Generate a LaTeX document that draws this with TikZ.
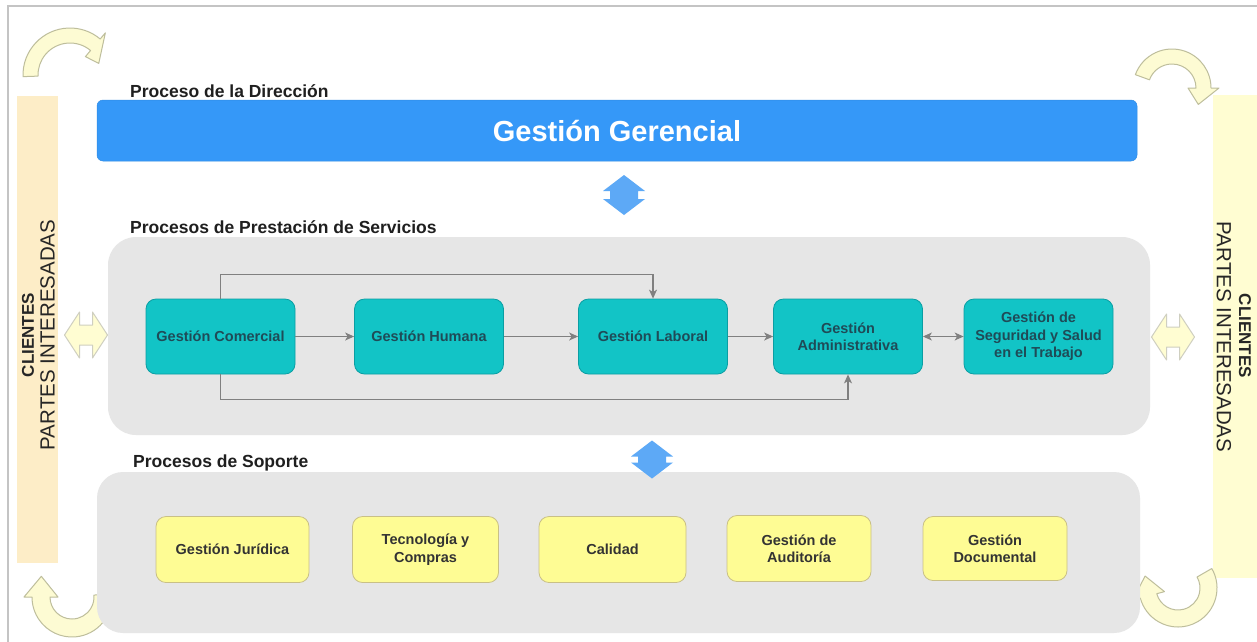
\documentclass[tikz,border=0pt]{standalone}
\usepackage{fontspec}
\setmainfont{Liberation Sans}
\usetikzlibrary{arrows.meta}

\definecolor{framegray}{HTML}{C4C4C4}
\definecolor{peach}{HTML}{FDEDC7}
\definecolor{paleyellow}{HTML}{FFFDD2}
\definecolor{direcblue}{HTML}{3598F8}
\definecolor{lightblue}{HTML}{5DA9F6}
\definecolor{panelgray}{HTML}{E6E6E6}
\definecolor{tealfill}{HTML}{12C4C6}
\definecolor{tealline}{HTML}{0B9EA3}
\definecolor{tealtext}{HTML}{1F4B57}
\definecolor{supfill}{HTML}{FEFC94}
\definecolor{supline}{HTML}{C9C086}
\definecolor{flowgray}{HTML}{808080}
\definecolor{bendfill}{HTML}{FDFBD3}
\definecolor{bendline}{HTML}{BEBE9C}
\definecolor{hollowline}{HTML}{CFCFC0}

% curved arrow: centre x, centre y, inner r, outer r, tail angle, head-base angle, tip angle, tip radius
\newcommand\bendarrow[8]{%
  \filldraw[cyclearrow] ([shift={(#1,#2)}]{#5}:{#4}) arc[start angle=#5, end angle=#6, radius=#4]
    -- ([shift={(#1,#2)}]{#6}:{#4+8}) -- ([shift={(#1,#2)}]{#7}:{#8})
    -- ([shift={(#1,#2)}]{#6}:{#3-8}) -- ([shift={(#1,#2)}]{#6}:{#3})
    arc[start angle=#6, end angle=#5, radius=#3] -- cycle;}

% horizontal two-headed outline arrow centred at (#1,#2)
\newcommand\hollowdouble[2]{%
  \filldraw[hollowarrow, shift={(#1,#2)}] (-21.5,0) -- (-6.5,-23) -- (-6.5,-10) -- (6.5,-10)
    -- (6.5,-23) -- (21.5,0) -- (6.5,23) -- (6.5,10) -- (-6.5,10) -- (-6.5,23) -- cycle;}

% vertical two-headed blue arrow centred at (#1,#2), half height #3
\newcommand\bluedouble[3]{%
  \fill[lightblue, shift={(#1,#2)}] (0,{-#3}) -- (21,{-#3+16}) -- (14,{-#3+16}) -- (14,{#3-16})
    -- (21,{#3-16}) -- (0,{#3}) -- (-21,{#3-16}) -- (-14,{#3-16}) -- (-14,{-#3+16})
    -- (-21,{-#3+16}) -- cycle;}

\begin{document}
\begin{tikzpicture}[x=1pt,y=-1pt,
  cyclearrow/.style={fill=bendfill, draw=bendline, line width=1pt, line join=round},
  hollowarrow/.style={fill=paleyellow, draw=hollowline, line width=1pt, line join=round},
  lbl/.style={anchor=base west, font=\fontsize{17.5}{20}\selectfont\bfseries, text=black!88, inner sep=0pt},
  srv/.style={draw=tealline, fill=tealfill, rounded corners=10pt, line width=0.8pt,
    minimum width=149pt, minimum height=75pt, inner sep=0pt, align=center,
    font=\fontsize{14.5}{17.5}\selectfont\bfseries, text=tealtext},
  sup/.style={draw=supline, fill=supfill, rounded corners=10pt, line width=0.8pt,
    minimum width=146pt, minimum height=66pt, inner sep=0pt, align=center,
    font=\fontsize{14.5}{17.5}\selectfont\bfseries, text=black!80},
  flow/.style={draw=flowgray, line width=1.1pt, -{Stealth[length=9pt,width=8pt,inset=2.5pt]}},
  flowboth/.style={draw=flowgray, line width=1.1pt, {Stealth[length=9pt,width=8pt,inset=2.5pt]}-{Stealth[length=9pt,width=8pt,inset=2.5pt]}},
  sidelbl/.style={inner sep=0pt, text=black!85}]

\useasboundingbox (0,0) rectangle (1257,641);
\fill[white] (0,0) rectangle (1257,641);

% outer frame
\draw[framegray, line width=1.3pt] (8,650) -- (8,6) -- (1265,6);

% side bands for clients and stakeholders
\fill[peach] (17,96) rectangle (58,563);
\fill[paleyellow] (1213,95) rectangle (1262,578);
\node[sidelbl, rotate=90, font=\fontsize{17}{19}\selectfont\bfseries] (cliL) at (28,335) {CLIENTES};
\node[sidelbl, rotate=90, font=\fontsize{20.5}{22}\selectfont] (parL) at (47.5,335) {PARTES INTERESADAS};
\node[sidelbl, rotate=-90, font=\fontsize{17}{19}\selectfont\bfseries] (cliR) at (1245,336) {CLIENTES};
\node[sidelbl, rotate=-90, font=\fontsize{20.5}{22}\selectfont] (parR) at (1224,337) {PARTES INTERESADAS};

% corner cycle arrows
\bendarrow{70}{75}{32}{47}{-182}{-50}{-22}{31}
\bendarrow{1172}{88}{24}{39}{-160}{0}{32}{31}
\bendarrow{72}{597}{22}{40}{-5}{180}{214}{37}
\bendarrow{1178}{588}{22}{39}{-30}{165}{200}{35}

% management process
\node[lbl] (lDir) at (130,97) {Proceso de la Dirección};
\node[fill=direcblue, draw=direcblue!92!black, line width=0.5pt, rounded corners=6pt,
  minimum width=1040pt, minimum height=61pt, inner sep=0pt,
  font=\fontsize{29}{32}\selectfont\bfseries, text=white] (ger) at (617,130.5) {Gestión Gerencial};

\bluedouble{624}{195}{20}

% service processes
\node[lbl] (lSrv) at (130,233) {Procesos de Prestación de Servicios};
\fill[panelgray, rounded corners=28pt] (108,237) rectangle (1150,435);

\node[srv] (com) at (220.5,336.5) {Gestión Comercial};
\node[srv] (hum) at (429,336.5) {Gestión Humana};
\node[srv] (lab) at (653,336.5) {Gestión Laboral};
\node[srv] (adm) at (848,336.5) {Gestión\\Administrativa};
\node[srv] (seg) at (1038.5,336.5) {Gestión de\\Seguridad y Salud\\en el Trabajo};

\draw[flow] (com) -- (hum);
\draw[flow] (hum) -- (lab);
\draw[flow] (lab) -- (adm);
\draw[flowboth] (adm) -- (seg);
\draw[flow] (com.north) -- ++(0,-24) -| (lab.north);
\draw[flow] (com.south) -- ++(0,25) -| (adm.south);

\hollowdouble{86}{335}
\hollowdouble{1173}{337}

% support processes
\node[lbl] (lSup) at (133,467) {Procesos de Soporte};
\fill[panelgray, rounded corners=26pt] (97,472) rectangle (1140,633);
\bluedouble{652}{459.5}{19}

\node[sup, minimum width=153pt] (jur) at (232.5,549.5) {Gestión Jurídica};
\node[sup] (tec) at (425.5,549.5) {Tecnología y\\Compras};
\node[sup, minimum width=147pt] (cal) at (612.5,549.5) {Calidad};
\node[sup, minimum width=144pt] (aud) at (799,548.5) {Gestión de\\Auditoría};
\node[sup, minimum width=144pt, minimum height=64pt] (doc) at (995,548.5) {Gestión\\Documental};

\end{tikzpicture}
\end{document}
